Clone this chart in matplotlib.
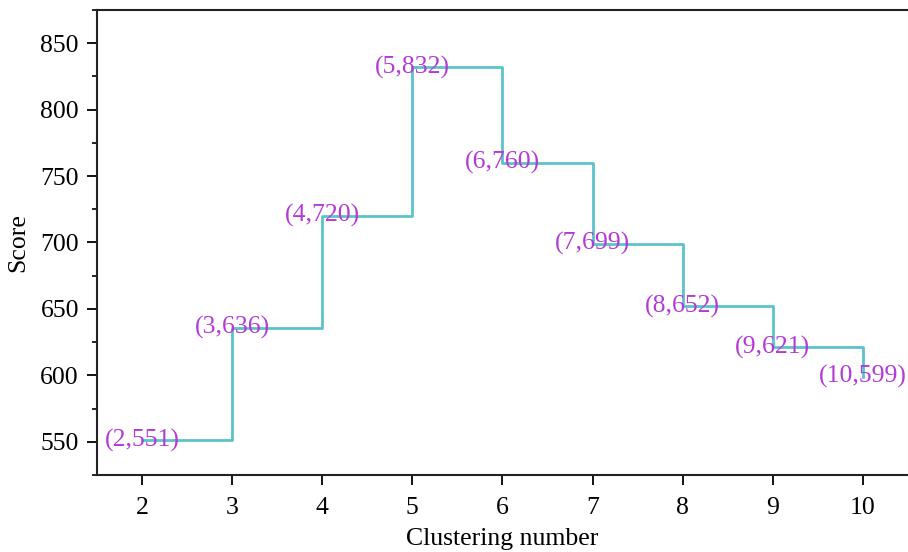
import matplotlib
matplotlib.use('Agg')
import matplotlib.pyplot as plt
from matplotlib.ticker import MultipleLocator

clusters = [2, 3, 4, 5, 6, 7, 8, 9, 10]
scores = [551, 636, 720, 832, 760, 699, 652, 621, 599]

plt.rcParams['font.family'] = ['Liberation Serif', 'DejaVu Serif']

fig = plt.figure(figsize=(9.08, 5.52), dpi=100)
ax = fig.add_axes([0.1068, 0.1395, 0.8932, 0.8425])

ax.step(clusters, scores, where='post', color='#5cc3cb', linewidth=2)

for x, y in zip(clusters, scores):
    ax.text(x, y, '({0},{1})'.format(x, y), ha='center', va='center',
            fontsize=18.5, color='#b43ad6')

ax.set_xlim(1.5, 10.5)
ax.set_ylim(525, 875)
ax.xaxis.set_major_locator(MultipleLocator(1))
ax.yaxis.set_major_locator(MultipleLocator(50))
ax.yaxis.set_minor_locator(MultipleLocator(25))

ax.tick_params(axis='both', which='major', direction='out', length=7, width=1.3,
               labelsize=18.5, pad=6)
ax.tick_params(axis='x', which='major', pad=9)
ax.tick_params(axis='y', which='minor', direction='out', length=3.6, width=1.2)

for side in ['left', 'bottom', 'top']:
    ax.spines[side].set_linewidth(1.5)
    ax.spines[side].set_color('#222222')
ax.spines['right'].set_color('#cccccc')

ax.set_xlabel('Clustering number', fontsize=18.5, labelpad=6)
ax.set_ylabel('Score', fontsize=18.5, labelpad=8)

fig.savefig('out.png', dpi=100)
